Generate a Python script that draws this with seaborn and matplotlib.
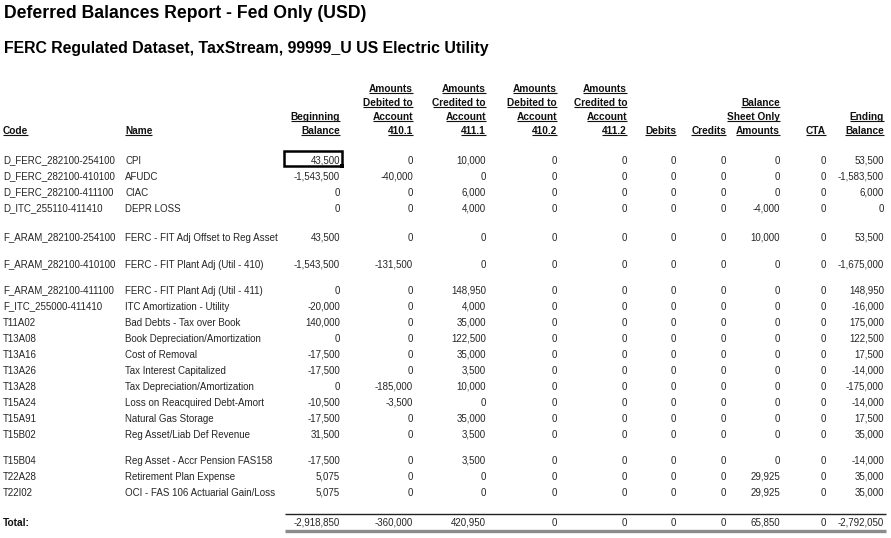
import matplotlib
matplotlib.use("Agg")
import matplotlib.pyplot as plt
from matplotlib.patches import Rectangle
import seaborn as sns

# ---------------- data ----------------
title = "Deferred Balances Report - Fed Only (USD)"
subtitle = "FERC Regulated Dataset, TaxStream, 99999_U US Electric Utility"

codes = ["D_FERC_282100-254100", "D_FERC_282100-410100", "D_FERC_282100-411100",
         "D_ITC_255110-411410", "F_ARAM_282100-254100", "F_ARAM_282100-410100",
         "F_ARAM_282100-411100", "F_ITC_255000-411410", "T11A02", "T13A08", "T13A16",
         "T13A26", "T13A28", "T15A24", "T15A91", "T15B02", "T15B04", "T22A28", "T22I02"]
names = ["CPI", "AFUDC", "CIAC", "DEPR LOSS", "FERC - FIT Adj Offset to Reg Asset",
         "FERC - FIT Plant Adj (Util - 410)", "FERC - FIT Plant Adj (Util - 411)",
         "ITC Amortization - Utility", "Bad Debts - Tax over Book",
         "Book Depreciation/Amortization", "Cost of Removal", "Tax Interest Capitalized",
         "Tax Depreciation/Amortization", "Loss on Reacquired Debt-Amort",
         "Natural Gas Storage", "Reg Asset/Liab Def Revenue",
         "Reg Asset - Accr Pension FAS158", "Retirement Plan Expense",
         "OCI - FAS 106 Actuarial Gain/Loss"]
beginning = [43500, -1543500, 0, 0, 43500, -1543500, 0, -20000, 140000, 0, -17500,
             -17500, 0, -10500, -17500, 31500, -17500, 5075, 5075]
debited_4101 = [0, -40000, 0, 0, 0, -131500, 0, 0, 0, 0, 0, 0, -185000, -3500, 0, 0, 0, 0, 0]
credited_4111 = [10000, 0, 6000, 4000, 0, 0, 148950, 4000, 35000, 122500, 35000, 3500,
                 10000, 0, 35000, 3500, 3500, 0, 0]
debited_4102 = [0] * 19
credited_4112 = [0] * 19
debits = [0] * 19
credits = [0] * 19
bs_only = [0, 0, 0, -4000, 10000, 0, 0, 0, 0, 0, 0, 0, 0, 0, 0, 0, 0, 29925, 29925]
cta = [0] * 19
ending = [53500, -1583500, 6000, 0, 53500, -1675000, 148950, -16000, 175000, 122500,
          17500, -14000, -175000, -14000, 17500, 35000, -14000, 35000, 35000]

headers = [["Beginning", "Balance"],
           ["Amounts", "Debited to", "Account", "410.1"],
           ["Amounts", "Credited to", "Account", "411.1"],
           ["Amounts", "Debited to", "Account", "410.2"],
           ["Amounts", "Credited to", "Account", "411.2"],
           ["Debits"], ["Credits"],
           ["Balance", "Sheet Only", "Amounts"],
           ["CTA"], ["Ending", "Balance"]]
value_cols = [beginning, debited_4101, credited_4111, debited_4102, credited_4112,
              debits, credits, bs_only, cta, ending]

# ---------------- layout (baselines, pixel units) ----------------
W, H = 891, 538
col_right = [340, 413, 486, 557, 627, 676, 726, 780, 826, 884]
code_x, name_x = 3, 125
header_base, header_step = 133.5, 14
row_base, row_step = 163.8, 16
extra_after = {3: 13, 4: 11, 5: 10, 15: 10}
total_base = 525.5
fs_data, fs_head = 7.0, 7.3
data_color = "#262626"

sns.set_theme(style="white")
plt.rcParams["font.family"] = ["Liberation Sans", "DejaVu Sans"]

fig = plt.figure(figsize=(W / 100, H / 100), dpi=100)
ax = fig.add_axes([0, 0, 1, 1])
ax.set_xlim(0, W)
ax.set_ylim(H, 0)
ax.axis("off")

ax.text(4, 18, title, fontsize=12.7, fontweight="bold", va="baseline", ha="left", color="black")
ax.text(4, 53.5, subtitle, fontsize=11.4, fontweight="bold", va="baseline", ha="left", color="black")

# headers
head_texts = []
def head(x, y, s, ha):
    t = ax.text(x, y, s, fontsize=fs_head, fontweight="bold", ha=ha, va="baseline", color="#111111")
    head_texts.append((t, y))

head(code_x, header_base, "Code", "left")
head(name_x, header_base, "Name", "left")
for lines, xr in zip(headers, col_right):
    n = len(lines)
    for k, s in enumerate(lines):
        head(xr, header_base - (n - 1 - k) * header_step, s, "right")

# rows
ys = []
y = row_base
for i in range(len(codes)):
    ys.append(y)
    y += row_step + extra_after.get(i, 0)

for i, yy in enumerate(ys):
    dy = -0.8 if "_" in codes[i] else 0.0
    ax.text(code_x, yy + dy, codes[i], fontsize=fs_data, va="baseline", ha="left", color=data_color)
    ax.text(name_x, yy, names[i], fontsize=fs_data, va="baseline", ha="left", color=data_color)
    for col, xr in zip(value_cols, col_right):
        ax.text(xr, yy, f"{col[i]:,}", fontsize=fs_data, va="baseline", ha="right", color=data_color)

# totals
ax.text(code_x, total_base, "Total:", fontsize=fs_head, fontweight="bold", va="baseline", ha="left", color="#111111")
for col, xr in zip(value_cols, col_right):
    ax.text(xr, total_base, f"{sum(col):,}", fontsize=fs_data, va="baseline", ha="right", color=data_color)
ax.plot([285, 886], [514, 514], color="#222222", lw=1.0, solid_capstyle="butt")
ax.plot([285, 886], [531, 531], color="#8c8c8c", lw=2.4, solid_capstyle="butt")

# selected-cell box
ax.add_patch(Rectangle((284, 151), 58, 15, fill=False, edgecolor="black", lw=1.8))
ax.add_patch(Rectangle((340, 164), 4, 4, facecolor="black", edgecolor="none"))

# underline headers
fig.canvas.draw()
r = fig.canvas.get_renderer()
inv = ax.transData.inverted()
for t, base in head_texts:
    bb = t.get_window_extent(r)
    (x0, _), (x1, _) = inv.transform([(bb.x0, bb.y0), (bb.x1, bb.y1)])
    ax.plot([x0, x1], [base + 1.2, base + 1.2], color="#111111", lw=0.8, solid_capstyle="butt")

fig.savefig("out.png", dpi=100)
